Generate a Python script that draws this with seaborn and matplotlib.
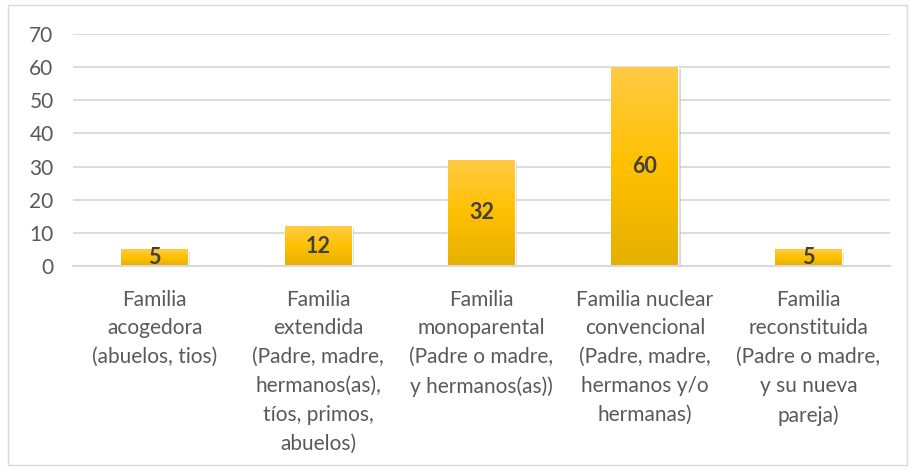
import numpy as np
import pandas as pd
import matplotlib
matplotlib.use("Agg")
import matplotlib.pyplot as plt
import matplotlib.patheffects as pe
from matplotlib.colors import LinearSegmentedColormap
from matplotlib.patches import Rectangle
import seaborn as sns

categorias = [
    "Familia\nacogedora\n(abuelos, tios)",
    "Familia\nextendida\n(Padre, madre,\nhermanos(as),\ntíos, primos,\nabuelos)",
    "Familia\nmonoparental\n(Padre o madre,\ny hermanos(as))",
    "Familia nuclear\nconvencional\n(Padre, madre,\nhermanos y/o\nhermanas)",
    "Familia\nreconstituida\n(Padre o madre,\ny su nueva\npareja)",
]
valores = [5, 12, 32, 60, 5]

df = pd.DataFrame({"tipo": categorias, "n": valores})

sns.set_style("white")
plt.rcParams["font.family"] = ["Lato", "DejaVu Sans"]

fig = plt.figure(figsize=(9.17, 4.70), dpi=100)
ax = fig.add_axes([0.0796, 0.434, 0.891, 0.4937])

sns.barplot(data=df, x="tipo", y="n", color="#FFC000", width=0.41, ax=ax)

ax.set_ylim(0, 70)
ax.set_yticks(range(0, 71, 10))
ax.grid(axis="y", color="#D9D9D9", linewidth=1.3)
ax.set_axisbelow(True)
for s in ["top", "right", "left"]:
    ax.spines[s].set_visible(False)
ax.spines["bottom"].set_color("#D9D9D9")
ax.spines["bottom"].set_linewidth(1.5)
ax.set_xlabel("")
ax.set_ylabel("")
ax.tick_params(axis="both", length=0, labelsize=15, labelcolor="#595959")
ax.tick_params(axis="y", pad=14)
ax.tick_params(axis="x", pad=17)
for t in ax.get_xticklabels():
    t.set_linespacing(1.55)

# sombra suave bajo las barras
for p in ax.patches:
    p.set_path_effects([pe.SimplePatchShadow(offset=(1.5, -1.5), shadow_rgbFace="#BFBFBF", alpha=0.6),
                        pe.Normal()])

# relleno degradado de las barras
cmap = LinearSegmentedColormap.from_list("oro", ["#E5B000", "#FFC000", "#FFCB45"])
grad = np.linspace(0, 1, 256).reshape(-1, 1)
xl, yl = ax.get_xlim(), ax.get_ylim()
for p in list(ax.patches):
    bb = p.get_bbox()
    im = ax.imshow(grad, cmap=cmap, origin="lower", aspect="auto",
                   extent=[bb.x0, bb.x1, bb.y0, bb.y1], zorder=p.get_zorder())
    im.set_clip_path(p)
ax.set_xlim(xl)
ax.set_ylim(yl)

ax.bar_label(ax.containers[0], label_type="center", fontsize=15.5,
             fontweight="bold", color="#404040")

fig.patches.append(Rectangle((8 / 917, 5 / 470), 899 / 917, 460 / 470,
                             transform=fig.transFigure, fill=False,
                             edgecolor="#D9D9D9", linewidth=1))

fig.savefig("out.png", dpi=100)
